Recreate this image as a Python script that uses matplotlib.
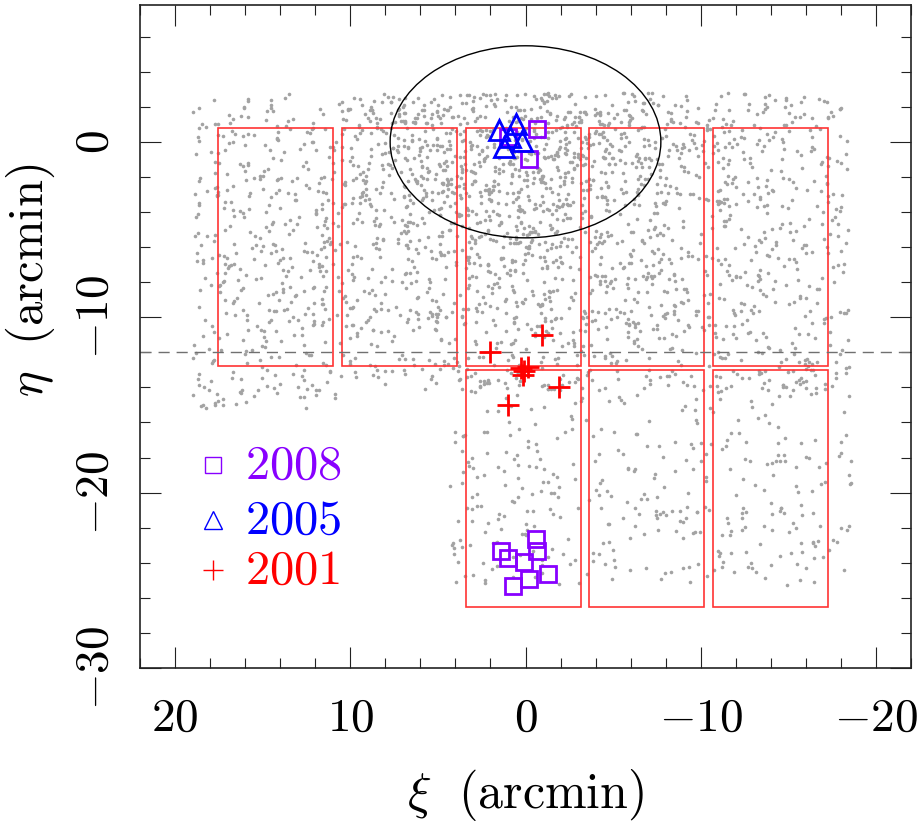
import numpy as np
import matplotlib
matplotlib.use('Agg')
import matplotlib.pyplot as plt
from matplotlib.patches import Rectangle, Ellipse
from matplotlib.ticker import MultipleLocator, FuncFormatter

plt.rcParams['mathtext.fontset'] = 'cm'
plt.rcParams['font.family'] = 'serif'
plt.rcParams['font.serif'] = ['DejaVu Serif']

# 2008 squares (xi, eta in arcmin)
xi_2008 = [-0.65, 1.01, -0.19, -0.61, -0.64, 1.39, 1.01, 0.06, -1.27, -0.19, 0.72]
eta_2008 = [0.72, 0.27, -0.97, -22.66, -23.31, -23.31, -23.75, -23.98, -24.66, -24.95, -25.33]
# 2005 triangles
xi_2005 = [1.54, 0.55, 0.91, 1.20, 0.19]
eta_2005 = [0.68, 1.03, 0.27, -0.30, 0.04]
# 2001 crosses
xi_2001 = [-0.95, 2.05, 0.25, 0.06, -0.13, 0.15, -1.94, 1.01]
eta_2001 = [-11.01, -12.00, -12.91, -13.05, -12.82, -13.29, -13.99, -15.00]

# survey footprints: column centres, rows (top, bottom)
col_x = [14.25, 7.20, 0.12, -6.93, -13.98]
col_w = 6.56
top_row = (0.78, -12.78)
bot_row = (-13.00, -26.53)
bot_cols = [0.12, -6.93, -13.98]

# ellipse and dashed line
ell_centre = (0.0, 0.0)
ell_size = (15.45, 10.95)
eta_dash = -12.0

# field star areas: xmin, xmax, ymin, ymax, count
fields = [
    (-18.5, 19.0, -14.2, 2.8, 1600),
    (10.5, 19.3, -15.2, -14.0, 25),
    (-18.6, 4.3, -25.3, -13.0, 400),
]
clump_centre = (0.5, -1.0)
clump_sigma = (6.0, 5.0)
clump_n = 1000

rng = np.random.default_rng(7)
bx, by = [], []
for x0, x1, y0, y1, n in fields:
    bx.append(rng.uniform(x0, x1, n))
    by.append(rng.uniform(y0, y1, n))
cx = rng.normal(clump_centre[0], clump_sigma[0], clump_n)
cy = rng.normal(clump_centre[1], clump_sigma[1], clump_n)
keep = (cy < 2.8) & (cy > -14.2) & (cx < 19.0) & (cx > -18.5)
bx.append(cx[keep])
by.append(cy[keep])
bx = np.concatenate(bx)
by = np.concatenate(by)

fig = plt.figure(figsize=(9.21, 8.30), dpi=100)
ax = fig.add_axes([140 / 921, 1 - 668 / 830, 771 / 921, 663 / 830])

ax.plot(bx, by, 'o', color='#a3a3a3', ms=2.6, mew=0, zorder=1)

for xc in col_x:
    ax.add_patch(Rectangle((xc - col_w / 2, top_row[1]), col_w, top_row[0] - top_row[1],
                           fill=False, ec='#ff3333', lw=1.2, zorder=2))
for xc in bot_cols:
    ax.add_patch(Rectangle((xc - col_w / 2, bot_row[1]), col_w, bot_row[0] - bot_row[1],
                           fill=False, ec='#ff3333', lw=1.2, zorder=2))

ax.add_patch(Ellipse(ell_centre, ell_size[0], ell_size[1], fill=False, ec='black', lw=1, zorder=3))
ax.axhline(eta_dash, color='#707070', ls=(0, (8, 5)), lw=1, zorder=2)

purple, blue, red = '#8800ff', '#0000ff', '#ff0000'
ax.plot(xi_2008, eta_2008, 's', mfc='none', mec=purple, ms=12, mew=2, zorder=5)
ax.plot(xi_2005, eta_2005, '^', mfc='none', mec=blue, ms=15, mew=2, zorder=5)
ax.plot(xi_2001, eta_2001, '+', color=red, ms=16, mew=2, zorder=5)

# legend drawn by hand
leg = [('s', purple, '2008', 0.306, 11), ('^', blue, '2005', 0.223, 13), ('+', red, '2001', 0.148, 15)]
for m, c, lab, yy, ms in leg:
    ax.plot([0.095], [yy], m, mfc='none', mec=c, color=c, ms=ms, mew=1, transform=ax.transAxes)
    ax.text(0.136, yy, '$' + lab + '$', color=c, fontsize=35, va='center', ha='left',
            transform=ax.transAxes)

ax.set_xlim(22, -22)
ax.set_ylim(-30, 7.8)
ax.xaxis.set_major_locator(MultipleLocator(10))
ax.xaxis.set_minor_locator(MultipleLocator(2))
ax.yaxis.set_major_locator(MultipleLocator(10))
ax.yaxis.set_minor_locator(MultipleLocator(2))
fmt = FuncFormatter(lambda v, p: '$%d$' % round(v))
ax.xaxis.set_major_formatter(fmt)
ax.yaxis.set_major_formatter(fmt)
ax.tick_params(which='both', direction='in', top=True, right=True, width=0.8, color='#222222')
ax.tick_params(which='major', length=15, labelsize=34)
ax.tick_params(which='minor', length=7.5)
ax.tick_params(axis='x', which='major', pad=20)
ax.tick_params(axis='y', which='major', pad=16)
for lbl in ax.get_yticklabels():
    lbl.set_rotation(90)
    lbl.set_va('center')
for s in ax.spines.values():
    s.set_linewidth(1.2)
    s.set_color('#222222')

ax.set_xlabel(r'$\xi\ \ (\mathrm{arcmin})$', fontsize=36)
ax.set_ylabel(r'$\eta\ \ (\mathrm{arcmin})$', fontsize=35)
ax.xaxis.set_label_coords(0.5, -0.15)
ax.yaxis.set_label_coords(-0.108, 0.585)

fig.savefig('out.png', dpi=100)
